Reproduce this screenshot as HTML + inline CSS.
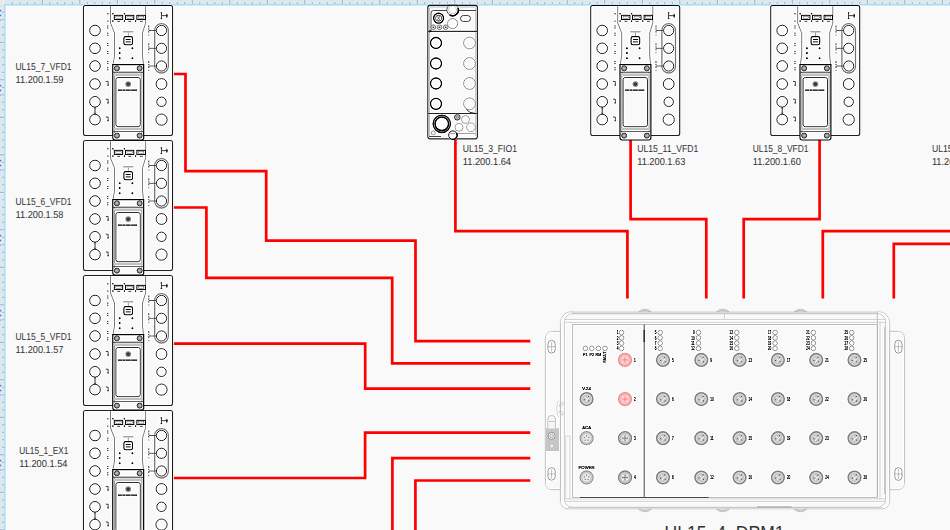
<!DOCTYPE html>
<html><head><meta charset="utf-8"><title>diagram</title>
<style>html,body{margin:0;padding:0;background:#f9f9f9;width:950px;height:530px;overflow:hidden}</style>
</head><body>
<svg width="950" height="530" viewBox="0 0 950 530" style="display:block">
<defs><g id="vfd"><rect x="0" y="-0.5" width="89" height="130" rx="2" fill="#f9f9f9" stroke="#303030" stroke-width="1.1"/><path d="M27,0V17L31,27V50L29.5,58.5M62.1,0V17L59,27V50L60,58.5" fill="none" stroke="#666" stroke-width="0.7"/><circle cx="11.5" cy="24.5" r="5.3" fill="none" stroke="#333" stroke-width="0.9"/><circle cx="11.5" cy="42.3" r="5.3" fill="none" stroke="#333" stroke-width="0.9"/><circle cx="11.5" cy="60" r="5.3" fill="none" stroke="#333" stroke-width="0.9"/><circle cx="11.5" cy="78" r="5.3" fill="none" stroke="#333" stroke-width="0.9"/><circle cx="11.5" cy="95.8" r="5.3" fill="none" stroke="#333" stroke-width="0.9"/><circle cx="11.5" cy="113.6" r="5.3" fill="none" stroke="#333" stroke-width="0.9"/><rect x="71.2" y="17.6" width="13.6" height="49.4" rx="6.8" fill="none" stroke="#8a8a8a" stroke-width="1.3"/><circle cx="78" cy="24.5" r="5.1" fill="#f9f9f9" stroke="#333" stroke-width="0.9"/><circle cx="78" cy="42.3" r="5.1" fill="#f9f9f9" stroke="#333" stroke-width="0.9"/><circle cx="78" cy="60" r="5.1" fill="#f9f9f9" stroke="#333" stroke-width="0.9"/><circle cx="78" cy="78" r="5.4" fill="#f9f9f9" stroke="#333" stroke-width="0.9"/><circle cx="78" cy="95.8" r="4.7" fill="#f9f9f9" stroke="#333" stroke-width="0.9"/><circle cx="78" cy="113.6" r="5.6" fill="#f9f9f9" stroke="#333" stroke-width="0.9"/><path d="M65.5,24.5H72.8" stroke="#333" stroke-width="0.7"/><path d="M65.3,19.5V29.5" stroke="#333" stroke-width="0.8" stroke-dasharray="2,0.8,1.5,0.8,2"/><path d="M65.5,42.3H72.8" stroke="#333" stroke-width="0.7"/><path d="M65.3,37.3V47.3" stroke="#333" stroke-width="0.8" stroke-dasharray="2,0.8,1.5,0.8,2"/><path d="M65.5,60H72.8" stroke="#333" stroke-width="0.7"/><path d="M65.3,55V65" stroke="#333" stroke-width="0.8" stroke-dasharray="2,0.8,1.5,0.8,2"/><path d="M11.5,101V108.3" stroke="#333" stroke-width="0.9"/><path d="M10.6,102.6L11.5,101.4L12.4,102.6M10.6,106.7L11.5,107.9L12.4,106.7" stroke="#333" stroke-width="0.6" fill="none"/><path d="M24.3,7.8h0.01M24.3,15.1h0.01" stroke="#777" stroke-width="1.4" stroke-linecap="square"/><path d="M24.3,19.4v1.2M24.3,21.4v1.2M24.3,26.6v1.2M24.3,28.6v1.2M24.3,36.9v1.2M24.3,38.9v1.2M24.3,44.9v1.2M24.3,46.9v1.2M24.3,54.9v1.2M24.3,56.9v1.2M24.3,61.2v1.2M24.3,63.2v1.2" stroke="#2a2a2a" stroke-width="0.95"/><path d="M22.3,75.4H24.6V79.2M23.6,79.2H25.4" stroke="#333" stroke-width="0.8" fill="none"/><path d="M22.3,93.2H24.6V97M23.6,97H25.4" stroke="#333" stroke-width="0.8" fill="none"/><path d="M22.3,111H24.6V114.8M23.6,114.8H25.4" stroke="#333" stroke-width="0.8" fill="none"/><rect x="30.8" y="9.3" width="8.4" height="4.3" fill="none" stroke="#111" stroke-width="0.95"/><rect x="32.3" y="10.6" width="5.4" height="1.7" fill="none" stroke="#555" stroke-width="0.5"/><path d="M33.8,15.3h2.8" stroke="#333" stroke-width="0.8"/><rect x="41.9" y="9.3" width="8.4" height="4.3" fill="none" stroke="#111" stroke-width="0.95"/><rect x="43.4" y="10.6" width="5.4" height="1.7" fill="none" stroke="#555" stroke-width="0.5"/><path d="M44.9,15.3h2.8" stroke="#333" stroke-width="0.8"/><rect x="53.4" y="9.3" width="8.4" height="4.3" fill="none" stroke="#111" stroke-width="0.95"/><rect x="54.9" y="10.6" width="5.4" height="1.7" fill="none" stroke="#555" stroke-width="0.5"/><path d="M56.4,15.3h2.8" stroke="#333" stroke-width="0.8"/><circle cx="29.4" cy="7.8" r="0.8" fill="#222"/><circle cx="40.9" cy="7.8" r="0.8" fill="#222"/><circle cx="29.4" cy="15.1" r="0.8" fill="#222"/><circle cx="40.9" cy="15.1" r="0.8" fill="#222"/><circle cx="52.1" cy="15.1" r="0.8" fill="#222"/><path d="M77.9,6.6V12.8M77.1,6.8H78.7M77.1,12.6H78.7M77.9,9.7H82.6" stroke="#333" stroke-width="0.85" fill="none"/><path d="M83.4,7.2L84.3,9.7L83.4,12.2L82.5,9.7Z" fill="#1a1a1a"/><path d="M40.2,25.8H49.2" stroke="#b0b0b0" stroke-width="1.6" stroke-linecap="round"/><path d="M44.8,26.6V30.5" stroke="#555" stroke-width="0.5"/><rect x="40.4" y="30.6" width="8.6" height="8.2" rx="1.7" fill="none" stroke="#222" stroke-width="1.1"/><path d="M42.2,33.5H47.2M42.2,35.9H47.2" stroke="#333" stroke-width="1"/><circle cx="36.2" cy="42.3" r="0.95" fill="#222"/><circle cx="48.9" cy="42.3" r="0.95" fill="#222"/><circle cx="36.2" cy="47" r="0.95" fill="#222"/><circle cx="36.2" cy="52.2" r="0.95" fill="#222"/><circle cx="48.9" cy="52.2" r="0.95" fill="#222"/><path d="M29.3,58.6H60.2V131.8Q60.2,134 58,134H31.5Q29.3,134 29.3,131.8Z" fill="#f9f9f9" stroke="#111" stroke-width="1.15"/><path d="M31.1,66V127M58.4,66V127" stroke="#888" stroke-width="0.9"/><path d="M29.5,66.2H60" stroke="#333" stroke-width="0.9"/><rect x="30.3" y="67.3" width="28.9" height="2.9" fill="#c4c4c4"/><rect x="32.4" y="71.5" width="24.4" height="49.2" rx="2.2" fill="#f9f9f9" stroke="#333" stroke-width="0.85"/><rect x="30.3" y="121.8" width="28.9" height="2.4" fill="#c4c4c4"/><path d="M29.5,125.5H60" stroke="#444" stroke-width="0.7"/><circle cx="33.4" cy="62.25" r="2.6" fill="#8a8a8a" stroke="#2a2a2a" stroke-width="0.75"/><circle cx="33.4" cy="62.25" r="1.2" fill="#b0b0b0"/><circle cx="56.2" cy="62.25" r="2.6" fill="#8a8a8a" stroke="#2a2a2a" stroke-width="0.75"/><circle cx="56.2" cy="62.25" r="1.2" fill="#b0b0b0"/><circle cx="33.4" cy="129.6" r="2.6" fill="#8a8a8a" stroke="#2a2a2a" stroke-width="0.75"/><circle cx="33.4" cy="129.6" r="1.2" fill="#b0b0b0"/><circle cx="56.2" cy="129.6" r="2.6" fill="#8a8a8a" stroke="#2a2a2a" stroke-width="0.75"/><circle cx="56.2" cy="129.6" r="1.2" fill="#b0b0b0"/><circle cx="44.7" cy="78.1" r="2.9" fill="#8c8c8c"/><circle cx="44.7" cy="78.1" r="1.7" fill="#3a3a3a"/><path d="M34.4,84.2H53.6" stroke="#1a1a1a" stroke-width="1.2" stroke-dasharray="4,0.4,3,0.4,5,0.4,6"/></g><filter id="sharp" x="0" y="0" width="950" height="530" filterUnits="userSpaceOnUse" color-interpolation-filters="sRGB"><feConvolveMatrix order="3" kernelMatrix="0 -0.12 0 -0.12 1.48 -0.12 0 -0.12 0" edgeMode="duplicate" preserveAlpha="true"/></filter><clipPath id="fioclip"><rect x="420" y="5.4" width="60" height="20"/></clipPath></defs>
<rect width="950" height="530" fill="#f9f9f9"/>
<g filter="url(#sharp)">
<rect x="0" y="0" width="950" height="4.6" fill="#dce8f0"/>
<rect x="0" y="0" width="4.6" height="530" fill="#dce8f0"/>
<rect x="0" y="0" width="4.6" height="4.6" fill="#e9ecee"/>
<path d="M12.3,2V4.6M19.8,2V4.6M27.3,2V4.6M34.8,2V4.6M42.3,0V4.6M49.8,2V4.6M57.3,2V4.6M64.8,2V4.6M72.3,2V4.6M79.8,0V4.6M87.3,2V4.6M94.8,2V4.6M102.3,2V4.6M109.8,2V4.6M117.3,0V4.6M124.8,2V4.6M132.3,2V4.6M139.8,2V4.6M147.3,2V4.6M154.8,0V4.6M162.3,2V4.6M169.8,2V4.6M177.3,2V4.6M184.8,2V4.6M192.3,0V4.6M199.8,2V4.6M207.3,2V4.6M214.8,2V4.6M222.3,2V4.6M229.8,0V4.6M237.3,2V4.6M244.8,2V4.6M252.3,2V4.6M259.8,2V4.6M267.3,0V4.6M274.8,2V4.6M282.3,2V4.6M289.8,2V4.6M297.3,2V4.6M304.8,0V4.6M312.3,2V4.6M319.8,2V4.6M327.3,2V4.6M334.8,2V4.6M342.3,0V4.6M349.8,2V4.6M357.3,2V4.6M364.8,2V4.6M372.3,2V4.6M379.8,0V4.6M387.3,2V4.6M394.8,2V4.6M402.3,2V4.6M409.8,2V4.6M417.3,0V4.6M424.8,2V4.6M432.3,2V4.6M439.8,2V4.6M447.3,2V4.6M454.8,0V4.6M462.3,2V4.6M469.8,2V4.6M477.3,2V4.6M484.8,2V4.6M492.3,0V4.6M499.8,2V4.6M507.3,2V4.6M514.8,2V4.6M522.3,2V4.6M529.8,0V4.6M537.3,2V4.6M544.8,2V4.6M552.3,2V4.6M559.8,2V4.6M567.3,0V4.6M574.8,2V4.6M582.3,2V4.6M589.8,2V4.6M597.3,2V4.6M604.8,0V4.6M612.3,2V4.6M619.8,2V4.6M627.3,2V4.6M634.8,2V4.6M642.3,0V4.6M649.8,2V4.6M657.3,2V4.6M664.8,2V4.6M672.3,2V4.6M679.8,0V4.6M687.3,2V4.6M694.8,2V4.6M702.3,2V4.6M709.8,2V4.6M717.3,0V4.6M724.8,2V4.6M732.3,2V4.6M739.8,2V4.6M747.3,2V4.6M754.8,0V4.6M762.3,2V4.6M769.8,2V4.6M777.3,2V4.6M784.8,2V4.6M792.3,0V4.6M799.8,2V4.6M807.3,2V4.6M814.8,2V4.6M822.3,2V4.6M829.8,0V4.6M837.3,2V4.6M844.8,2V4.6M852.3,2V4.6M859.8,2V4.6M867.3,0V4.6M874.8,2V4.6M882.3,2V4.6M889.8,2V4.6M897.3,2V4.6M904.8,0V4.6M912.3,2V4.6M919.8,2V4.6M927.3,2V4.6M934.8,2V4.6M942.3,0V4.6M949.8,2V4.6" stroke="#9fb6cc" stroke-width="0.9"/>
<path d="M2,12.3H4.6M2,19.8H4.6M2,27.3H4.6M2,34.8H4.6M0,42.3H4.6M2,49.8H4.6M2,57.3H4.6M2,64.8H4.6M2,72.3H4.6M0,79.8H4.6M2,87.3H4.6M2,94.8H4.6M2,102.3H4.6M2,109.8H4.6M0,117.3H4.6M2,124.8H4.6M2,132.3H4.6M2,139.8H4.6M2,147.3H4.6M0,154.8H4.6M2,162.3H4.6M2,169.8H4.6M2,177.3H4.6M2,184.8H4.6M0,192.3H4.6M2,199.8H4.6M2,207.3H4.6M2,214.8H4.6M2,222.3H4.6M0,229.8H4.6M2,237.3H4.6M2,244.8H4.6M2,252.3H4.6M2,259.8H4.6M0,267.3H4.6M2,274.8H4.6M2,282.3H4.6M2,289.8H4.6M2,297.3H4.6M0,304.8H4.6M2,312.3H4.6M2,319.8H4.6M2,327.3H4.6M2,334.8H4.6M0,342.3H4.6M2,349.8H4.6M2,357.3H4.6M2,364.8H4.6M2,372.3H4.6M0,379.8H4.6M2,387.3H4.6M2,394.8H4.6M2,402.3H4.6M2,409.8H4.6M0,417.3H4.6M2,424.8H4.6M2,432.3H4.6M2,439.8H4.6M2,447.3H4.6M0,454.8H4.6M2,462.3H4.6M2,469.8H4.6M2,477.3H4.6M2,484.8H4.6M0,492.3H4.6M2,499.8H4.6M2,507.3H4.6M2,514.8H4.6M2,522.3H4.6M0,529.8H4.6" stroke="#9fb6cc" stroke-width="0.9"/>
<rect x="0" y="9.8" width="1.3" height="1.7" fill="#5a8fd2" opacity="1"/><rect x="0" y="14.6" width="1.3" height="1.7" fill="#5a8fd2" opacity="1"/><rect x="0" y="19.2" width="1.3" height="1.7" fill="#5a8fd2" opacity="0.45"/><rect x="0" y="84.8" width="1.3" height="1.7" fill="#5a8fd2" opacity="1"/><rect x="0" y="89.6" width="1.3" height="1.7" fill="#5a8fd2" opacity="1"/><rect x="0" y="94.2" width="1.3" height="1.7" fill="#5a8fd2" opacity="0.45"/><rect x="0" y="159.8" width="1.3" height="1.7" fill="#5a8fd2" opacity="1"/><rect x="0" y="164.6" width="1.3" height="1.7" fill="#5a8fd2" opacity="1"/><rect x="0" y="169.2" width="1.3" height="1.7" fill="#5a8fd2" opacity="0.45"/><rect x="0" y="234.8" width="1.3" height="1.7" fill="#5a8fd2" opacity="1"/><rect x="0" y="239.6" width="1.3" height="1.7" fill="#5a8fd2" opacity="1"/><rect x="0" y="244.2" width="1.3" height="1.7" fill="#5a8fd2" opacity="0.45"/><rect x="0" y="309.8" width="1.3" height="1.7" fill="#5a8fd2" opacity="1"/><rect x="0" y="314.6" width="1.3" height="1.7" fill="#5a8fd2" opacity="1"/><rect x="0" y="319.2" width="1.3" height="1.7" fill="#5a8fd2" opacity="0.45"/><rect x="0" y="384.8" width="1.3" height="1.7" fill="#5a8fd2" opacity="1"/><rect x="0" y="389.6" width="1.3" height="1.7" fill="#5a8fd2" opacity="1"/><rect x="0" y="394.2" width="1.3" height="1.7" fill="#5a8fd2" opacity="0.45"/><rect x="0" y="459.8" width="1.3" height="1.7" fill="#5a8fd2" opacity="1"/><rect x="0" y="464.6" width="1.3" height="1.7" fill="#5a8fd2" opacity="1"/><rect x="0" y="469.2" width="1.3" height="1.7" fill="#5a8fd2" opacity="0.45"/>
<rect x="4.6" y="4.2" width="946" height="1.5" fill="#a2dbf5"/>
<rect x="4.2" y="4.6" width="1.5" height="526" fill="#a2dbf5"/>
<rect x="5.7" y="5.7" width="945" height="1" fill="#ffffff"/>
<rect x="5.7" y="5.7" width="1" height="525" fill="#ffffff"/>
<path d="M173.9,74L185.5,74L185.5,171.2L266.2,171.2L266.2,240.6L415.5,240.6L415.5,341.1L530.3,341.1M173.9,207.5L206.4,207.5L206.4,277.9L392.2,277.9L392.2,363.3L530.3,363.3M173.9,343.7L365.2,343.7L365.2,388.6L530.3,388.6M173.9,478L365.1,478L365.1,432.6L530.3,432.6M392.4,532L392.4,458.2L530.3,458.2M415.4,532L415.4,480.5L530.3,480.5M455.4,139.5L455.4,231.2L627.4,231.2L627.4,298.4M630.6,139.5L630.6,219.1L706.3,219.1L706.3,298.4M819.6,139.5L819.6,219.1L743.7,219.1L743.7,298.4M952,231.2L822.8,231.2L822.8,298.4M952,243.8L893.8,243.8L893.8,298.4" fill="none" stroke="#ff0000" stroke-width="2.7" stroke-linejoin="miter" stroke-linecap="butt"/>
<use href="#vfd" transform="translate(83.5,6)"/>
<use href="#vfd" transform="translate(83.5,141)"/>
<use href="#vfd" transform="translate(83.5,276)"/>
<use href="#vfd" transform="translate(83.5,411)"/>
<use href="#vfd" transform="translate(590.7,6)"/>
<use href="#vfd" transform="translate(770.7,6)"/>
<rect x="427.8" y="5.4" width="49.6" height="133.4" rx="2.2" fill="#f9f9f9" stroke="#333" stroke-width="1.2"/><path d="M429,6.9H476.3" stroke="#aaa" stroke-width="0.9"/><path d="M429.3,8V136M475.9,8V136" stroke="#aaa" stroke-width="0.9"/><path d="M431,31V13Q431,10.5 433.5,10.5H476" fill="none" stroke="#555" stroke-width="0.9"/><path d="M428,31.3H477" stroke="#222" stroke-width="1"/><path d="M429.5,29.8L432,31.3L429.5,32.8Z" fill="#222"/><g clip-path="url(#fioclip)"><circle cx="452.6" cy="9.9" r="5.8" fill="#f9f9f9" stroke="#666" stroke-width="1"/><circle cx="452.6" cy="9.9" r="4" fill="#fff" stroke="#aaa" stroke-width="0.6"/><path d="M458.05,7.92A5.8,5.8 0 0 1 449.7,14.92" fill="none" stroke="#1a1a1a" stroke-width="1.7"/></g><path d="M448,5.4H457.5" stroke="#333" stroke-width="1.2"/><circle cx="438.6" cy="18.2" r="4.9" fill="#fff" stroke="#111" stroke-width="1.4"/><circle cx="438.6" cy="18.2" r="3.1" fill="#fff" stroke="#333" stroke-width="0.8"/><circle cx="438.6" cy="16.9" r="1" fill="none" stroke="#444" stroke-width="0.6"/><circle cx="438.6" cy="19.5" r="1" fill="none" stroke="#444" stroke-width="0.6"/><circle cx="452.6" cy="23.6" r="5" fill="none" stroke="#888" stroke-width="0.8"/><rect x="460.6" y="15.6" width="9.8" height="5.8" rx="2.6" fill="none" stroke="#444" stroke-width="0.9"/><circle cx="433.3" cy="27.2" r="2.4" fill="#d0d0d0" stroke="#6a6a6a" stroke-width="0.7"/><circle cx="433.3" cy="27.2" r="0.8" fill="#555"/><circle cx="439.5" cy="27.2" r="2.4" fill="#d0d0d0" stroke="#6a6a6a" stroke-width="0.7"/><circle cx="439.5" cy="27.2" r="0.8" fill="#555"/><circle cx="445.7" cy="27.2" r="2.4" fill="#d0d0d0" stroke="#6a6a6a" stroke-width="0.7"/><circle cx="445.7" cy="27.2" r="0.8" fill="#555"/><circle cx="436" cy="43" r="5.5" fill="none" stroke="#111" stroke-width="1.3"/><circle cx="469.5" cy="43" r="5.9" fill="none" stroke="#999" stroke-width="0.9"/><circle cx="436" cy="63.5" r="5.5" fill="none" stroke="#111" stroke-width="1.3"/><circle cx="469.5" cy="63.5" r="5.9" fill="none" stroke="#999" stroke-width="0.9"/><circle cx="436" cy="83.5" r="5.5" fill="none" stroke="#111" stroke-width="1.3"/><circle cx="469.5" cy="83.5" r="5.9" fill="none" stroke="#999" stroke-width="0.9"/><circle cx="436" cy="103.8" r="5.5" fill="none" stroke="#111" stroke-width="1.3"/><circle cx="469.5" cy="103.8" r="5.9" fill="none" stroke="#999" stroke-width="0.9"/><path d="M428,113.5H477" stroke="#333" stroke-width="0.9"/><circle cx="441.8" cy="123.8" r="8.6" fill="#f9f9f9" stroke="#262626" stroke-width="1.5"/><circle cx="441.8" cy="123.8" r="6.8" fill="#fff" stroke="#111" stroke-width="1.6"/><circle cx="457.3" cy="117.3" r="2.8" fill="#bdbdbd" stroke="#3a3a3a" stroke-width="0.9"/><circle cx="457.3" cy="117.3" r="1.2" fill="none" stroke="#666" stroke-width="0.5"/><path d="M466.5,109.4Q469,113.4 475.5,113.4" fill="none" stroke="#333" stroke-width="0.9"/><circle cx="465.5" cy="119.5" r="4" fill="none" stroke="#999" stroke-width="0.8"/><circle cx="459" cy="127.3" r="4" fill="none" stroke="#999" stroke-width="0.8"/><circle cx="471" cy="127.3" r="4.4" fill="none" stroke="#999" stroke-width="0.8"/><path d="M455,133.5H475" stroke="#999" stroke-width="0.8"/><circle cx="433.2" cy="133" r="2" fill="none" stroke="#888" stroke-width="0.7"/><path d="M429,136.5H441" stroke="#666" stroke-width="1"/><circle cx="452.9" cy="135.1" r="4.2" fill="#fff" stroke="#333" stroke-width="1"/><path d="M456.6,133.1A4.2,4.2 0 0 1 451.5,139.1" fill="none" stroke="#111" stroke-width="1.3"/><path d="M450.2,133.7H455.6" stroke="#666" stroke-width="0.6"/>
<path d="M560.4,331.4H552.3Q545.3,331.4 545.3,338.4V482.7Q545.3,489.7 552.3,489.7H560.4" fill="#f9f9f9" stroke="#b4b4b4" stroke-width="0.8"/><path d="M889.7,331.4H897.6Q904.6,331.4 904.6,338.4V482.7Q904.6,489.7 897.6,489.7H889.7" fill="#f9f9f9" stroke="#b4b4b4" stroke-width="0.8"/><rect x="548" y="340.3" width="7.2" height="12.8" rx="3.6" fill="none" stroke="#888" stroke-width="0.7"/><path d="M548,346.7H555.2M551.6,341.8V351.6" stroke="#999" stroke-width="0.5"/><rect x="548" y="467.6" width="7.2" height="12.6" rx="3.6" fill="none" stroke="#888" stroke-width="0.7"/><path d="M548,473.9H555.2M551.6,469.1V478.7" stroke="#999" stroke-width="0.5"/><rect x="894.8" y="340.3" width="7.2" height="12.8" rx="3.6" fill="none" stroke="#888" stroke-width="0.7"/><path d="M894.8,346.7H902M898.4,341.8V351.6" stroke="#999" stroke-width="0.5"/><rect x="894.8" y="467.6" width="7.2" height="12.8" rx="3.6" fill="none" stroke="#888" stroke-width="0.7"/><path d="M894.8,474H902M898.4,469.1V478.9" stroke="#999" stroke-width="0.5"/><rect x="545.6" y="428.3" width="13.4" height="22.7" fill="#c6c6c6"/><path d="M547.8,428.3V419.2Q547.8,415.4 551.6,415.4Q555.4,415.4 555.4,419.2V428.3M548.6,421.5H554.6" fill="#f4f4f4" stroke="#aaa" stroke-width="0.6"/><circle cx="551.6" cy="435.8" r="3.6" fill="#e4e4e4" stroke="#888" stroke-width="0.7"/><circle cx="551.6" cy="435.8" r="1.8" fill="none" stroke="#999" stroke-width="0.6"/><path d="M551.8,444.4L553.5,446.1L551.8,447.8L550.1,446.1Z" fill="#f2f2f2"/><path d="M571.4,311.5H878.7A11,11 0 0 1 889.7,322.5V501.5A7.5,7.5 0 0 1 882.2,509H567.9A7.5,7.5 0 0 1 560.4,501.5V322.5A11,11 0 0 1 571.4,311.5Z" fill="#f9f9f9" stroke="#b4b4b4" stroke-width="0.8"/><path d="M571.4,312.7H878.5M568,508.3H882" stroke="#d9d9d9" stroke-width="2.4"/><rect x="564.4" y="313.8" width="321.2" height="193.4" rx="8" fill="none" stroke="#c2c2c2" stroke-width="0.7"/><path d="M564.4,319.4H885.6M564.4,322.3H885.6M564.4,498.9H885.6M564.4,501.4H885.6" stroke="#c0c0c0" stroke-width="0.6"/><path d="M724.4,314V318.8" stroke="#bbb" stroke-width="0.6"/><path d="M757,506.9H791.5" stroke="#9a9a9a" stroke-width="0.8"/><path d="M569.9,436V499M565.7,436V499M565.7,436H569.9M880,322V499" stroke="#c4c4c4" stroke-width="0.6"/><path d="M884.8,327V494" stroke="#aaa" stroke-width="0.8"/><ellipse cx="561.3" cy="404.6" rx="2.6" ry="1.2" transform="rotate(-45 561.3 404.6)" fill="none" stroke="#bbb" stroke-width="0.6"/><ellipse cx="561.3" cy="413" rx="2.6" ry="1.2" transform="rotate(45 561.3 413)" fill="none" stroke="#bbb" stroke-width="0.6"/><path d="M558.5,400.5Q555,408.8 558.5,417" fill="none" stroke="#c4c4c4" stroke-width="0.6"/><rect x="572.7" y="324.5" width="304.6" height="172.9" fill="#f9f9f9" stroke="#b0b0b0" stroke-width="0.7"/><path d="M877.3,312.5V497.4" stroke="#b8b8b8" stroke-width="0.8"/><path d="M580,497.5H708.6" stroke="#666" stroke-width="1"/><path d="M644.2,324.6V497.4" stroke="#666" stroke-width="1.1"/><path d="M644.2,330V342" stroke="#444" stroke-width="1.4"/><path d="M638.8,312.2A6.2,2.9 0 0 1 651.2,312.2M640.4,312.2A4.6,1.9 0 0 1 649.6,312.2" fill="none" stroke="#a8a8a8" stroke-width="0.7"/><path d="M638.8,508.8A6.2,2.9 0 0 0 651.2,508.8M640.4,508.8A4.6,1.9 0 0 0 649.6,508.8" fill="none" stroke="#a8a8a8" stroke-width="0.7"/><path d="M716.5,312.2A6.2,2.9 0 0 1 728.9,312.2M718.1,312.2A4.6,1.9 0 0 1 727.3,312.2" fill="none" stroke="#a8a8a8" stroke-width="0.7"/><path d="M716.5,508.8A6.2,2.9 0 0 0 728.9,508.8M718.1,508.8A4.6,1.9 0 0 0 727.3,508.8" fill="none" stroke="#a8a8a8" stroke-width="0.7"/><path d="M794.3,312.2A6.2,2.9 0 0 1 806.7,312.2M795.9,312.2A4.6,1.9 0 0 1 805.1,312.2" fill="none" stroke="#a8a8a8" stroke-width="0.7"/><path d="M794.3,508.8A6.2,2.9 0 0 0 806.7,508.8M795.9,508.8A4.6,1.9 0 0 0 805.1,508.8" fill="none" stroke="#a8a8a8" stroke-width="0.7"/><circle cx="585.3" cy="348.4" r="2.3" fill="none" stroke="#666" stroke-width="0.55"/><text x="585.3" y="356.3" font-size="3.6" text-anchor="middle" style="font-family:'Liberation Sans', sans-serif;fill:#111;stroke:#111;stroke-width:0.22" >P1</text><circle cx="591.8" cy="348.4" r="2.3" fill="none" stroke="#666" stroke-width="0.55"/><text x="591.8" y="356.3" font-size="3.6" text-anchor="middle" style="font-family:'Liberation Sans', sans-serif;fill:#111;stroke:#111;stroke-width:0.22" >P2</text><circle cx="598.4" cy="348.4" r="2.3" fill="none" stroke="#666" stroke-width="0.55"/><text x="598.4" y="356.3" font-size="3.6" text-anchor="middle" style="font-family:'Liberation Sans', sans-serif;fill:#111;stroke:#111;stroke-width:0.22" >RM</text><circle cx="605" cy="348.4" r="2.3" fill="none" stroke="#666" stroke-width="0.55"/><text transform="translate(606.4,362.5) rotate(-90)" font-size="3.6" style="font-family:'Liberation Sans', sans-serif;fill:#111;stroke:#111;stroke-width:0.22">FAULT</text><circle cx="621.6" cy="332.5" r="2.3" fill="none" stroke="#666" stroke-width="0.55"/><text x="616.85" y="334.2" font-size="4.8" textLength="1.75" lengthAdjust="spacingAndGlyphs" style="font-family:'Liberation Sans', sans-serif;fill:#111;stroke:#111;stroke-width:0.22" >1</text><circle cx="621.6" cy="337.8" r="2.3" fill="none" stroke="#666" stroke-width="0.55"/><text x="616.85" y="339.5" font-size="4.8" textLength="1.75" lengthAdjust="spacingAndGlyphs" style="font-family:'Liberation Sans', sans-serif;fill:#111;stroke:#111;stroke-width:0.22" >2</text><circle cx="621.6" cy="343.1" r="2.3" fill="none" stroke="#666" stroke-width="0.55"/><text x="616.85" y="344.8" font-size="4.8" textLength="1.75" lengthAdjust="spacingAndGlyphs" style="font-family:'Liberation Sans', sans-serif;fill:#111;stroke:#111;stroke-width:0.22" >3</text><circle cx="621.6" cy="348.4" r="2.3" fill="none" stroke="#666" stroke-width="0.55"/><text x="616.85" y="350.1" font-size="4.8" textLength="1.75" lengthAdjust="spacingAndGlyphs" style="font-family:'Liberation Sans', sans-serif;fill:#111;stroke:#111;stroke-width:0.22" >4</text><circle cx="625" cy="359.9" r="6.5" fill="#f8b4b4" stroke="#f39a9a" stroke-width="1.3"/><circle cx="625" cy="359.9" r="4.6" fill="#fbc8c8" stroke="#f5a5a5" stroke-width="0.5"/><path d="M622.3,359.9h5.4M625,357.2v5.4" stroke="#ef7f7f" stroke-width="0.7"/><circle cx="622.8" cy="357.7" r="0.7" fill="#fde3e3"/><circle cx="627.2" cy="357.7" r="0.7" fill="#fde3e3"/><circle cx="622.8" cy="362.1" r="0.7" fill="#fde3e3"/><circle cx="627.2" cy="362.1" r="0.7" fill="#fde3e3"/><text x="633.9" y="361.6" font-size="4.8" textLength="1.75" lengthAdjust="spacingAndGlyphs" style="font-family:'Liberation Sans', sans-serif;fill:#111;stroke:#111;stroke-width:0.22" >1</text><circle cx="625" cy="399.1" r="6.5" fill="#f8b4b4" stroke="#f39a9a" stroke-width="1.3"/><circle cx="625" cy="399.1" r="4.6" fill="#fbc8c8" stroke="#f5a5a5" stroke-width="0.5"/><path d="M622.3,399.1h5.4M625,396.4v5.4" stroke="#ef7f7f" stroke-width="0.7"/><circle cx="622.8" cy="396.9" r="0.7" fill="#fde3e3"/><circle cx="627.2" cy="396.9" r="0.7" fill="#fde3e3"/><circle cx="622.8" cy="401.3" r="0.7" fill="#fde3e3"/><circle cx="627.2" cy="401.3" r="0.7" fill="#fde3e3"/><text x="633.9" y="400.8" font-size="4.8" textLength="1.75" lengthAdjust="spacingAndGlyphs" style="font-family:'Liberation Sans', sans-serif;fill:#111;stroke:#111;stroke-width:0.22" >2</text><circle cx="625" cy="438.2" r="6.5" fill="#c6c6c6" stroke="#8e8e8e" stroke-width="1.3"/><circle cx="625" cy="438.2" r="4.7" fill="#d4d4d4" stroke="#a8a8a8" stroke-width="0.5"/><path d="M622,438.2L628,438.2M625,435.2L625,441.2" stroke="#777" stroke-width="0.7"/><circle cx="622.9" cy="436.1" r="0.8" fill="#eee"/><circle cx="627.1" cy="436.1" r="0.8" fill="#eee"/><circle cx="622.9" cy="440.3" r="0.8" fill="#eee"/><circle cx="627.1" cy="440.3" r="0.8" fill="#eee"/><text x="633.9" y="439.9" font-size="4.8" textLength="1.75" lengthAdjust="spacingAndGlyphs" style="font-family:'Liberation Sans', sans-serif;fill:#111;stroke:#111;stroke-width:0.22" >3</text><circle cx="625" cy="477.5" r="6.5" fill="#c6c6c6" stroke="#8e8e8e" stroke-width="1.3"/><circle cx="625" cy="477.5" r="4.7" fill="#d4d4d4" stroke="#a8a8a8" stroke-width="0.5"/><path d="M622,477.5L628,477.5M625,474.5L625,480.5" stroke="#777" stroke-width="0.7"/><circle cx="622.9" cy="475.4" r="0.8" fill="#eee"/><circle cx="627.1" cy="475.4" r="0.8" fill="#eee"/><circle cx="622.9" cy="479.6" r="0.8" fill="#eee"/><circle cx="627.1" cy="479.6" r="0.8" fill="#eee"/><text x="633.9" y="479.2" font-size="4.8" textLength="1.75" lengthAdjust="spacingAndGlyphs" style="font-family:'Liberation Sans', sans-serif;fill:#111;stroke:#111;stroke-width:0.22" >4</text><circle cx="586.6" cy="399.1" r="6.3" fill="#c2c2c2" stroke="#8f8f8f" stroke-width="1.6"/><circle cx="586.6" cy="399.1" r="4.9" fill="#c6c6c6" stroke="#d6d6d6" stroke-width="0.8"/><path d="M584.8,396.9L587.1,399.4M587.1,399.4L585.8,401.7M587.1,399.4L589,398.1" stroke="#ececec" stroke-width="1" stroke-linecap="round"/><circle cx="588.4" cy="396.5" r="0.55" fill="#555"/><circle cx="588.8" cy="400.9" r="0.55" fill="#555"/><circle cx="584.3" cy="399.7" r="0.55" fill="#555"/><text x="586.6" y="390.2" font-size="4.3" text-anchor="middle" style="font-family:'Liberation Sans', sans-serif;fill:#111;stroke:#111;stroke-width:0.22" >V.24</text><circle cx="586.6" cy="438.2" r="6.5" fill="#cdcdcd" stroke="#a4a4a4" stroke-width="1.3"/><circle cx="586.6" cy="438.2" r="4.7" fill="#e4e4e4" stroke="#b4b4b4" stroke-width="0.5"/><circle cx="586.6" cy="435.8" r="0.6" fill="#777"/><circle cx="588.9" cy="437.5" r="0.6" fill="#777"/><circle cx="588" cy="440.2" r="0.6" fill="#777"/><circle cx="585.2" cy="440.2" r="0.6" fill="#777"/><circle cx="584.3" cy="437.5" r="0.6" fill="#777"/><text x="586.6" y="429.4" font-size="4.3" text-anchor="middle" style="font-family:'Liberation Sans', sans-serif;fill:#111;stroke:#111;stroke-width:0.22" >ACA</text><circle cx="586.6" cy="477.5" r="6.5" fill="#cdcdcd" stroke="#a4a4a4" stroke-width="1.3"/><circle cx="586.6" cy="477.5" r="4.7" fill="#e4e4e4" stroke="#b4b4b4" stroke-width="0.5"/><circle cx="586.6" cy="475.1" r="0.6" fill="#777"/><circle cx="588.9" cy="476.8" r="0.6" fill="#777"/><circle cx="588" cy="479.5" r="0.6" fill="#777"/><circle cx="585.2" cy="479.5" r="0.6" fill="#777"/><circle cx="584.3" cy="476.8" r="0.6" fill="#777"/><text x="586.6" y="468.6" font-size="4.3" text-anchor="middle" style="font-family:'Liberation Sans', sans-serif;fill:#111;stroke:#111;stroke-width:0.22" >POWER</text><circle cx="660.2" cy="332.5" r="2.3" fill="none" stroke="#666" stroke-width="0.55"/><text x="654.7" y="334.2" font-size="4.8" textLength="1.7" lengthAdjust="spacingAndGlyphs" style="font-family:'Liberation Sans', sans-serif;fill:#111;stroke:#111;stroke-width:0.22" >5</text><circle cx="660.2" cy="337.8" r="2.3" fill="none" stroke="#666" stroke-width="0.55"/><text x="654.7" y="339.5" font-size="4.8" textLength="1.7" lengthAdjust="spacingAndGlyphs" style="font-family:'Liberation Sans', sans-serif;fill:#111;stroke:#111;stroke-width:0.22" >6</text><circle cx="660.2" cy="343.1" r="2.3" fill="none" stroke="#666" stroke-width="0.55"/><text x="654.7" y="344.8" font-size="4.8" textLength="1.7" lengthAdjust="spacingAndGlyphs" style="font-family:'Liberation Sans', sans-serif;fill:#111;stroke:#111;stroke-width:0.22" >7</text><circle cx="660.2" cy="348.4" r="2.3" fill="none" stroke="#666" stroke-width="0.55"/><text x="654.7" y="350.1" font-size="4.8" textLength="1.7" lengthAdjust="spacingAndGlyphs" style="font-family:'Liberation Sans', sans-serif;fill:#111;stroke:#111;stroke-width:0.22" >8</text><circle cx="663" cy="359.9" r="6.3" fill="#c2c2c2" stroke="#8f8f8f" stroke-width="1.6"/><circle cx="663" cy="359.9" r="4.9" fill="#c6c6c6" stroke="#d6d6d6" stroke-width="0.8"/><path d="M661.2,357.7L663.5,360.2M663.5,360.2L662.2,362.5M663.5,360.2L665.4,358.9" stroke="#ececec" stroke-width="1" stroke-linecap="round"/><circle cx="664.8" cy="357.3" r="0.55" fill="#555"/><circle cx="665.2" cy="361.7" r="0.55" fill="#555"/><circle cx="660.7" cy="360.5" r="0.55" fill="#555"/><text x="672" y="361.6" font-size="4.8" textLength="1.7" lengthAdjust="spacingAndGlyphs" style="font-family:'Liberation Sans', sans-serif;fill:#111;stroke:#111;stroke-width:0.22" >5</text><circle cx="663" cy="399.1" r="6.3" fill="#c2c2c2" stroke="#8f8f8f" stroke-width="1.6"/><circle cx="663" cy="399.1" r="4.9" fill="#c6c6c6" stroke="#d6d6d6" stroke-width="0.8"/><path d="M661.2,396.9L663.5,399.4M663.5,399.4L662.2,401.7M663.5,399.4L665.4,398.1" stroke="#ececec" stroke-width="1" stroke-linecap="round"/><circle cx="664.8" cy="396.5" r="0.55" fill="#555"/><circle cx="665.2" cy="400.9" r="0.55" fill="#555"/><circle cx="660.7" cy="399.7" r="0.55" fill="#555"/><text x="672" y="400.8" font-size="4.8" textLength="1.7" lengthAdjust="spacingAndGlyphs" style="font-family:'Liberation Sans', sans-serif;fill:#111;stroke:#111;stroke-width:0.22" >6</text><circle cx="663" cy="438.2" r="6.3" fill="#c2c2c2" stroke="#8f8f8f" stroke-width="1.6"/><circle cx="663" cy="438.2" r="4.9" fill="#c6c6c6" stroke="#d6d6d6" stroke-width="0.8"/><path d="M661.2,436L663.5,438.5M663.5,438.5L662.2,440.8M663.5,438.5L665.4,437.2" stroke="#ececec" stroke-width="1" stroke-linecap="round"/><circle cx="664.8" cy="435.6" r="0.55" fill="#555"/><circle cx="665.2" cy="440" r="0.55" fill="#555"/><circle cx="660.7" cy="438.8" r="0.55" fill="#555"/><text x="672" y="439.9" font-size="4.8" textLength="1.7" lengthAdjust="spacingAndGlyphs" style="font-family:'Liberation Sans', sans-serif;fill:#111;stroke:#111;stroke-width:0.22" >7</text><circle cx="663" cy="477.5" r="6.3" fill="#c2c2c2" stroke="#8f8f8f" stroke-width="1.6"/><circle cx="663" cy="477.5" r="4.9" fill="#c6c6c6" stroke="#d6d6d6" stroke-width="0.8"/><path d="M661.2,475.3L663.5,477.8M663.5,477.8L662.2,480.1M663.5,477.8L665.4,476.5" stroke="#ececec" stroke-width="1" stroke-linecap="round"/><circle cx="664.8" cy="474.9" r="0.55" fill="#555"/><circle cx="665.2" cy="479.3" r="0.55" fill="#555"/><circle cx="660.7" cy="478.1" r="0.55" fill="#555"/><text x="672" y="479.2" font-size="4.8" textLength="1.7" lengthAdjust="spacingAndGlyphs" style="font-family:'Liberation Sans', sans-serif;fill:#111;stroke:#111;stroke-width:0.22" >8</text><circle cx="698.5" cy="332.5" r="2.3" fill="none" stroke="#666" stroke-width="0.55"/><text x="693" y="334.2" font-size="4.8" textLength="1.7" lengthAdjust="spacingAndGlyphs" style="font-family:'Liberation Sans', sans-serif;fill:#111;stroke:#111;stroke-width:0.22" >9</text><circle cx="698.5" cy="337.8" r="2.3" fill="none" stroke="#666" stroke-width="0.55"/><text x="691.3" y="339.5" font-size="4.8" textLength="3.4" lengthAdjust="spacingAndGlyphs" style="font-family:'Liberation Sans', sans-serif;fill:#111;stroke:#111;stroke-width:0.22" >10</text><circle cx="698.5" cy="343.1" r="2.3" fill="none" stroke="#666" stroke-width="0.55"/><text x="691.3" y="344.8" font-size="4.8" textLength="3.4" lengthAdjust="spacingAndGlyphs" style="font-family:'Liberation Sans', sans-serif;fill:#111;stroke:#111;stroke-width:0.22" >11</text><circle cx="698.5" cy="348.4" r="2.3" fill="none" stroke="#666" stroke-width="0.55"/><text x="691.3" y="350.1" font-size="4.8" textLength="3.4" lengthAdjust="spacingAndGlyphs" style="font-family:'Liberation Sans', sans-serif;fill:#111;stroke:#111;stroke-width:0.22" >12</text><circle cx="701.3" cy="359.9" r="6.3" fill="#c2c2c2" stroke="#8f8f8f" stroke-width="1.6"/><circle cx="701.3" cy="359.9" r="4.9" fill="#c6c6c6" stroke="#d6d6d6" stroke-width="0.8"/><path d="M699.5,357.7L701.8,360.2M701.8,360.2L700.5,362.5M701.8,360.2L703.7,358.9" stroke="#ececec" stroke-width="1" stroke-linecap="round"/><circle cx="703.1" cy="357.3" r="0.55" fill="#555"/><circle cx="703.5" cy="361.7" r="0.55" fill="#555"/><circle cx="699" cy="360.5" r="0.55" fill="#555"/><text x="710.3" y="361.6" font-size="4.8" textLength="1.7" lengthAdjust="spacingAndGlyphs" style="font-family:'Liberation Sans', sans-serif;fill:#111;stroke:#111;stroke-width:0.22" >9</text><circle cx="701.3" cy="399.1" r="6.3" fill="#c2c2c2" stroke="#8f8f8f" stroke-width="1.6"/><circle cx="701.3" cy="399.1" r="4.9" fill="#c6c6c6" stroke="#d6d6d6" stroke-width="0.8"/><path d="M699.5,396.9L701.8,399.4M701.8,399.4L700.5,401.7M701.8,399.4L703.7,398.1" stroke="#ececec" stroke-width="1" stroke-linecap="round"/><circle cx="703.1" cy="396.5" r="0.55" fill="#555"/><circle cx="703.5" cy="400.9" r="0.55" fill="#555"/><circle cx="699" cy="399.7" r="0.55" fill="#555"/><text x="710.3" y="400.8" font-size="4.8" textLength="3.4" lengthAdjust="spacingAndGlyphs" style="font-family:'Liberation Sans', sans-serif;fill:#111;stroke:#111;stroke-width:0.22" >10</text><circle cx="701.3" cy="438.2" r="6.3" fill="#c2c2c2" stroke="#8f8f8f" stroke-width="1.6"/><circle cx="701.3" cy="438.2" r="4.9" fill="#c6c6c6" stroke="#d6d6d6" stroke-width="0.8"/><path d="M699.5,436L701.8,438.5M701.8,438.5L700.5,440.8M701.8,438.5L703.7,437.2" stroke="#ececec" stroke-width="1" stroke-linecap="round"/><circle cx="703.1" cy="435.6" r="0.55" fill="#555"/><circle cx="703.5" cy="440" r="0.55" fill="#555"/><circle cx="699" cy="438.8" r="0.55" fill="#555"/><text x="710.3" y="439.9" font-size="4.8" textLength="3.4" lengthAdjust="spacingAndGlyphs" style="font-family:'Liberation Sans', sans-serif;fill:#111;stroke:#111;stroke-width:0.22" >11</text><circle cx="701.3" cy="477.5" r="6.3" fill="#c2c2c2" stroke="#8f8f8f" stroke-width="1.6"/><circle cx="701.3" cy="477.5" r="4.9" fill="#c6c6c6" stroke="#d6d6d6" stroke-width="0.8"/><path d="M699.5,475.3L701.8,477.8M701.8,477.8L700.5,480.1M701.8,477.8L703.7,476.5" stroke="#ececec" stroke-width="1" stroke-linecap="round"/><circle cx="703.1" cy="474.9" r="0.55" fill="#555"/><circle cx="703.5" cy="479.3" r="0.55" fill="#555"/><circle cx="699" cy="478.1" r="0.55" fill="#555"/><text x="710.3" y="479.2" font-size="4.8" textLength="3.4" lengthAdjust="spacingAndGlyphs" style="font-family:'Liberation Sans', sans-serif;fill:#111;stroke:#111;stroke-width:0.22" >12</text><circle cx="736.8" cy="332.5" r="2.3" fill="none" stroke="#666" stroke-width="0.55"/><text x="729.6" y="334.2" font-size="4.8" textLength="3.4" lengthAdjust="spacingAndGlyphs" style="font-family:'Liberation Sans', sans-serif;fill:#111;stroke:#111;stroke-width:0.22" >13</text><circle cx="736.8" cy="337.8" r="2.3" fill="none" stroke="#666" stroke-width="0.55"/><text x="729.6" y="339.5" font-size="4.8" textLength="3.4" lengthAdjust="spacingAndGlyphs" style="font-family:'Liberation Sans', sans-serif;fill:#111;stroke:#111;stroke-width:0.22" >14</text><circle cx="736.8" cy="343.1" r="2.3" fill="none" stroke="#666" stroke-width="0.55"/><text x="729.6" y="344.8" font-size="4.8" textLength="3.4" lengthAdjust="spacingAndGlyphs" style="font-family:'Liberation Sans', sans-serif;fill:#111;stroke:#111;stroke-width:0.22" >15</text><circle cx="736.8" cy="348.4" r="2.3" fill="none" stroke="#666" stroke-width="0.55"/><text x="729.6" y="350.1" font-size="4.8" textLength="3.4" lengthAdjust="spacingAndGlyphs" style="font-family:'Liberation Sans', sans-serif;fill:#111;stroke:#111;stroke-width:0.22" >16</text><circle cx="739.6" cy="359.9" r="6.3" fill="#c2c2c2" stroke="#8f8f8f" stroke-width="1.6"/><circle cx="739.6" cy="359.9" r="4.9" fill="#c6c6c6" stroke="#d6d6d6" stroke-width="0.8"/><path d="M737.8,357.7L740.1,360.2M740.1,360.2L738.8,362.5M740.1,360.2L742,358.9" stroke="#ececec" stroke-width="1" stroke-linecap="round"/><circle cx="741.4" cy="357.3" r="0.55" fill="#555"/><circle cx="741.8" cy="361.7" r="0.55" fill="#555"/><circle cx="737.3" cy="360.5" r="0.55" fill="#555"/><text x="748.6" y="361.6" font-size="4.8" textLength="3.4" lengthAdjust="spacingAndGlyphs" style="font-family:'Liberation Sans', sans-serif;fill:#111;stroke:#111;stroke-width:0.22" >13</text><circle cx="739.6" cy="399.1" r="6.3" fill="#c2c2c2" stroke="#8f8f8f" stroke-width="1.6"/><circle cx="739.6" cy="399.1" r="4.9" fill="#c6c6c6" stroke="#d6d6d6" stroke-width="0.8"/><path d="M737.8,396.9L740.1,399.4M740.1,399.4L738.8,401.7M740.1,399.4L742,398.1" stroke="#ececec" stroke-width="1" stroke-linecap="round"/><circle cx="741.4" cy="396.5" r="0.55" fill="#555"/><circle cx="741.8" cy="400.9" r="0.55" fill="#555"/><circle cx="737.3" cy="399.7" r="0.55" fill="#555"/><text x="748.6" y="400.8" font-size="4.8" textLength="3.4" lengthAdjust="spacingAndGlyphs" style="font-family:'Liberation Sans', sans-serif;fill:#111;stroke:#111;stroke-width:0.22" >14</text><circle cx="739.6" cy="438.2" r="6.3" fill="#c2c2c2" stroke="#8f8f8f" stroke-width="1.6"/><circle cx="739.6" cy="438.2" r="4.9" fill="#c6c6c6" stroke="#d6d6d6" stroke-width="0.8"/><path d="M737.8,436L740.1,438.5M740.1,438.5L738.8,440.8M740.1,438.5L742,437.2" stroke="#ececec" stroke-width="1" stroke-linecap="round"/><circle cx="741.4" cy="435.6" r="0.55" fill="#555"/><circle cx="741.8" cy="440" r="0.55" fill="#555"/><circle cx="737.3" cy="438.8" r="0.55" fill="#555"/><text x="748.6" y="439.9" font-size="4.8" textLength="3.4" lengthAdjust="spacingAndGlyphs" style="font-family:'Liberation Sans', sans-serif;fill:#111;stroke:#111;stroke-width:0.22" >15</text><circle cx="739.6" cy="477.5" r="6.3" fill="#c2c2c2" stroke="#8f8f8f" stroke-width="1.6"/><circle cx="739.6" cy="477.5" r="4.9" fill="#c6c6c6" stroke="#d6d6d6" stroke-width="0.8"/><path d="M737.8,475.3L740.1,477.8M740.1,477.8L738.8,480.1M740.1,477.8L742,476.5" stroke="#ececec" stroke-width="1" stroke-linecap="round"/><circle cx="741.4" cy="474.9" r="0.55" fill="#555"/><circle cx="741.8" cy="479.3" r="0.55" fill="#555"/><circle cx="737.3" cy="478.1" r="0.55" fill="#555"/><text x="748.6" y="479.2" font-size="4.8" textLength="3.4" lengthAdjust="spacingAndGlyphs" style="font-family:'Liberation Sans', sans-serif;fill:#111;stroke:#111;stroke-width:0.22" >16</text><circle cx="775.1" cy="332.5" r="2.3" fill="none" stroke="#666" stroke-width="0.55"/><text x="767.9" y="334.2" font-size="4.8" textLength="3.4" lengthAdjust="spacingAndGlyphs" style="font-family:'Liberation Sans', sans-serif;fill:#111;stroke:#111;stroke-width:0.22" >17</text><circle cx="775.1" cy="337.8" r="2.3" fill="none" stroke="#666" stroke-width="0.55"/><text x="767.9" y="339.5" font-size="4.8" textLength="3.4" lengthAdjust="spacingAndGlyphs" style="font-family:'Liberation Sans', sans-serif;fill:#111;stroke:#111;stroke-width:0.22" >18</text><circle cx="775.1" cy="343.1" r="2.3" fill="none" stroke="#666" stroke-width="0.55"/><text x="767.9" y="344.8" font-size="4.8" textLength="3.4" lengthAdjust="spacingAndGlyphs" style="font-family:'Liberation Sans', sans-serif;fill:#111;stroke:#111;stroke-width:0.22" >19</text><circle cx="775.1" cy="348.4" r="2.3" fill="none" stroke="#666" stroke-width="0.55"/><text x="767.9" y="350.1" font-size="4.8" textLength="3.4" lengthAdjust="spacingAndGlyphs" style="font-family:'Liberation Sans', sans-serif;fill:#111;stroke:#111;stroke-width:0.22" >20</text><circle cx="777.9" cy="359.9" r="6.3" fill="#c2c2c2" stroke="#8f8f8f" stroke-width="1.6"/><circle cx="777.9" cy="359.9" r="4.9" fill="#c6c6c6" stroke="#d6d6d6" stroke-width="0.8"/><path d="M776.1,357.7L778.4,360.2M778.4,360.2L777.1,362.5M778.4,360.2L780.3,358.9" stroke="#ececec" stroke-width="1" stroke-linecap="round"/><circle cx="779.7" cy="357.3" r="0.55" fill="#555"/><circle cx="780.1" cy="361.7" r="0.55" fill="#555"/><circle cx="775.6" cy="360.5" r="0.55" fill="#555"/><text x="786.9" y="361.6" font-size="4.8" textLength="3.4" lengthAdjust="spacingAndGlyphs" style="font-family:'Liberation Sans', sans-serif;fill:#111;stroke:#111;stroke-width:0.22" >17</text><circle cx="777.9" cy="399.1" r="6.3" fill="#c2c2c2" stroke="#8f8f8f" stroke-width="1.6"/><circle cx="777.9" cy="399.1" r="4.9" fill="#c6c6c6" stroke="#d6d6d6" stroke-width="0.8"/><path d="M776.1,396.9L778.4,399.4M778.4,399.4L777.1,401.7M778.4,399.4L780.3,398.1" stroke="#ececec" stroke-width="1" stroke-linecap="round"/><circle cx="779.7" cy="396.5" r="0.55" fill="#555"/><circle cx="780.1" cy="400.9" r="0.55" fill="#555"/><circle cx="775.6" cy="399.7" r="0.55" fill="#555"/><text x="786.9" y="400.8" font-size="4.8" textLength="3.4" lengthAdjust="spacingAndGlyphs" style="font-family:'Liberation Sans', sans-serif;fill:#111;stroke:#111;stroke-width:0.22" >18</text><circle cx="777.9" cy="438.2" r="6.3" fill="#c2c2c2" stroke="#8f8f8f" stroke-width="1.6"/><circle cx="777.9" cy="438.2" r="4.9" fill="#c6c6c6" stroke="#d6d6d6" stroke-width="0.8"/><path d="M776.1,436L778.4,438.5M778.4,438.5L777.1,440.8M778.4,438.5L780.3,437.2" stroke="#ececec" stroke-width="1" stroke-linecap="round"/><circle cx="779.7" cy="435.6" r="0.55" fill="#555"/><circle cx="780.1" cy="440" r="0.55" fill="#555"/><circle cx="775.6" cy="438.8" r="0.55" fill="#555"/><text x="786.9" y="439.9" font-size="4.8" textLength="3.4" lengthAdjust="spacingAndGlyphs" style="font-family:'Liberation Sans', sans-serif;fill:#111;stroke:#111;stroke-width:0.22" >19</text><circle cx="777.9" cy="477.5" r="6.3" fill="#c2c2c2" stroke="#8f8f8f" stroke-width="1.6"/><circle cx="777.9" cy="477.5" r="4.9" fill="#c6c6c6" stroke="#d6d6d6" stroke-width="0.8"/><path d="M776.1,475.3L778.4,477.8M778.4,477.8L777.1,480.1M778.4,477.8L780.3,476.5" stroke="#ececec" stroke-width="1" stroke-linecap="round"/><circle cx="779.7" cy="474.9" r="0.55" fill="#555"/><circle cx="780.1" cy="479.3" r="0.55" fill="#555"/><circle cx="775.6" cy="478.1" r="0.55" fill="#555"/><text x="786.9" y="479.2" font-size="4.8" textLength="3.4" lengthAdjust="spacingAndGlyphs" style="font-family:'Liberation Sans', sans-serif;fill:#111;stroke:#111;stroke-width:0.22" >20</text><circle cx="813.4" cy="332.5" r="2.3" fill="none" stroke="#666" stroke-width="0.55"/><text x="806.2" y="334.2" font-size="4.8" textLength="3.4" lengthAdjust="spacingAndGlyphs" style="font-family:'Liberation Sans', sans-serif;fill:#111;stroke:#111;stroke-width:0.22" >21</text><circle cx="813.4" cy="337.8" r="2.3" fill="none" stroke="#666" stroke-width="0.55"/><text x="806.2" y="339.5" font-size="4.8" textLength="3.4" lengthAdjust="spacingAndGlyphs" style="font-family:'Liberation Sans', sans-serif;fill:#111;stroke:#111;stroke-width:0.22" >22</text><circle cx="813.4" cy="343.1" r="2.3" fill="none" stroke="#666" stroke-width="0.55"/><text x="806.2" y="344.8" font-size="4.8" textLength="3.4" lengthAdjust="spacingAndGlyphs" style="font-family:'Liberation Sans', sans-serif;fill:#111;stroke:#111;stroke-width:0.22" >23</text><circle cx="813.4" cy="348.4" r="2.3" fill="none" stroke="#666" stroke-width="0.55"/><text x="806.2" y="350.1" font-size="4.8" textLength="3.4" lengthAdjust="spacingAndGlyphs" style="font-family:'Liberation Sans', sans-serif;fill:#111;stroke:#111;stroke-width:0.22" >24</text><circle cx="816.2" cy="359.9" r="6.3" fill="#c2c2c2" stroke="#8f8f8f" stroke-width="1.6"/><circle cx="816.2" cy="359.9" r="4.9" fill="#c6c6c6" stroke="#d6d6d6" stroke-width="0.8"/><path d="M814.4,357.7L816.7,360.2M816.7,360.2L815.4,362.5M816.7,360.2L818.6,358.9" stroke="#ececec" stroke-width="1" stroke-linecap="round"/><circle cx="818" cy="357.3" r="0.55" fill="#555"/><circle cx="818.4" cy="361.7" r="0.55" fill="#555"/><circle cx="813.9" cy="360.5" r="0.55" fill="#555"/><text x="825.2" y="361.6" font-size="4.8" textLength="3.4" lengthAdjust="spacingAndGlyphs" style="font-family:'Liberation Sans', sans-serif;fill:#111;stroke:#111;stroke-width:0.22" >21</text><circle cx="816.2" cy="399.1" r="6.3" fill="#c2c2c2" stroke="#8f8f8f" stroke-width="1.6"/><circle cx="816.2" cy="399.1" r="4.9" fill="#c6c6c6" stroke="#d6d6d6" stroke-width="0.8"/><path d="M814.4,396.9L816.7,399.4M816.7,399.4L815.4,401.7M816.7,399.4L818.6,398.1" stroke="#ececec" stroke-width="1" stroke-linecap="round"/><circle cx="818" cy="396.5" r="0.55" fill="#555"/><circle cx="818.4" cy="400.9" r="0.55" fill="#555"/><circle cx="813.9" cy="399.7" r="0.55" fill="#555"/><text x="825.2" y="400.8" font-size="4.8" textLength="3.4" lengthAdjust="spacingAndGlyphs" style="font-family:'Liberation Sans', sans-serif;fill:#111;stroke:#111;stroke-width:0.22" >22</text><circle cx="816.2" cy="438.2" r="6.3" fill="#c2c2c2" stroke="#8f8f8f" stroke-width="1.6"/><circle cx="816.2" cy="438.2" r="4.9" fill="#c6c6c6" stroke="#d6d6d6" stroke-width="0.8"/><path d="M814.4,436L816.7,438.5M816.7,438.5L815.4,440.8M816.7,438.5L818.6,437.2" stroke="#ececec" stroke-width="1" stroke-linecap="round"/><circle cx="818" cy="435.6" r="0.55" fill="#555"/><circle cx="818.4" cy="440" r="0.55" fill="#555"/><circle cx="813.9" cy="438.8" r="0.55" fill="#555"/><text x="825.2" y="439.9" font-size="4.8" textLength="3.4" lengthAdjust="spacingAndGlyphs" style="font-family:'Liberation Sans', sans-serif;fill:#111;stroke:#111;stroke-width:0.22" >23</text><circle cx="816.2" cy="477.5" r="6.3" fill="#c2c2c2" stroke="#8f8f8f" stroke-width="1.6"/><circle cx="816.2" cy="477.5" r="4.9" fill="#c6c6c6" stroke="#d6d6d6" stroke-width="0.8"/><path d="M814.4,475.3L816.7,477.8M816.7,477.8L815.4,480.1M816.7,477.8L818.6,476.5" stroke="#ececec" stroke-width="1" stroke-linecap="round"/><circle cx="818" cy="474.9" r="0.55" fill="#555"/><circle cx="818.4" cy="479.3" r="0.55" fill="#555"/><circle cx="813.9" cy="478.1" r="0.55" fill="#555"/><text x="825.2" y="479.2" font-size="4.8" textLength="3.4" lengthAdjust="spacingAndGlyphs" style="font-family:'Liberation Sans', sans-serif;fill:#111;stroke:#111;stroke-width:0.22" >24</text><circle cx="851.7" cy="332.5" r="2.3" fill="none" stroke="#666" stroke-width="0.55"/><text x="844.5" y="334.2" font-size="4.8" textLength="3.4" lengthAdjust="spacingAndGlyphs" style="font-family:'Liberation Sans', sans-serif;fill:#111;stroke:#111;stroke-width:0.22" >25</text><circle cx="851.7" cy="337.8" r="2.3" fill="none" stroke="#666" stroke-width="0.55"/><text x="844.5" y="339.5" font-size="4.8" textLength="3.4" lengthAdjust="spacingAndGlyphs" style="font-family:'Liberation Sans', sans-serif;fill:#111;stroke:#111;stroke-width:0.22" >26</text><circle cx="851.7" cy="343.1" r="2.3" fill="none" stroke="#666" stroke-width="0.55"/><text x="844.5" y="344.8" font-size="4.8" textLength="3.4" lengthAdjust="spacingAndGlyphs" style="font-family:'Liberation Sans', sans-serif;fill:#111;stroke:#111;stroke-width:0.22" >27</text><circle cx="851.7" cy="348.4" r="2.3" fill="none" stroke="#666" stroke-width="0.55"/><text x="844.5" y="350.1" font-size="4.8" textLength="3.4" lengthAdjust="spacingAndGlyphs" style="font-family:'Liberation Sans', sans-serif;fill:#111;stroke:#111;stroke-width:0.22" >28</text><circle cx="854.5" cy="359.9" r="6.3" fill="#c2c2c2" stroke="#8f8f8f" stroke-width="1.6"/><circle cx="854.5" cy="359.9" r="4.9" fill="#c6c6c6" stroke="#d6d6d6" stroke-width="0.8"/><path d="M852.7,357.7L855,360.2M855,360.2L853.7,362.5M855,360.2L856.9,358.9" stroke="#ececec" stroke-width="1" stroke-linecap="round"/><circle cx="856.3" cy="357.3" r="0.55" fill="#555"/><circle cx="856.7" cy="361.7" r="0.55" fill="#555"/><circle cx="852.2" cy="360.5" r="0.55" fill="#555"/><text x="863.5" y="361.6" font-size="4.8" textLength="3.4" lengthAdjust="spacingAndGlyphs" style="font-family:'Liberation Sans', sans-serif;fill:#111;stroke:#111;stroke-width:0.22" >25</text><circle cx="854.5" cy="399.1" r="6.3" fill="#c2c2c2" stroke="#8f8f8f" stroke-width="1.6"/><circle cx="854.5" cy="399.1" r="4.9" fill="#c6c6c6" stroke="#d6d6d6" stroke-width="0.8"/><path d="M852.7,396.9L855,399.4M855,399.4L853.7,401.7M855,399.4L856.9,398.1" stroke="#ececec" stroke-width="1" stroke-linecap="round"/><circle cx="856.3" cy="396.5" r="0.55" fill="#555"/><circle cx="856.7" cy="400.9" r="0.55" fill="#555"/><circle cx="852.2" cy="399.7" r="0.55" fill="#555"/><text x="863.5" y="400.8" font-size="4.8" textLength="3.4" lengthAdjust="spacingAndGlyphs" style="font-family:'Liberation Sans', sans-serif;fill:#111;stroke:#111;stroke-width:0.22" >26</text><circle cx="854.5" cy="438.2" r="6.3" fill="#c2c2c2" stroke="#8f8f8f" stroke-width="1.6"/><circle cx="854.5" cy="438.2" r="4.9" fill="#c6c6c6" stroke="#d6d6d6" stroke-width="0.8"/><path d="M852.7,436L855,438.5M855,438.5L853.7,440.8M855,438.5L856.9,437.2" stroke="#ececec" stroke-width="1" stroke-linecap="round"/><circle cx="856.3" cy="435.6" r="0.55" fill="#555"/><circle cx="856.7" cy="440" r="0.55" fill="#555"/><circle cx="852.2" cy="438.8" r="0.55" fill="#555"/><text x="863.5" y="439.9" font-size="4.8" textLength="3.4" lengthAdjust="spacingAndGlyphs" style="font-family:'Liberation Sans', sans-serif;fill:#111;stroke:#111;stroke-width:0.22" >27</text><circle cx="854.5" cy="477.5" r="6.3" fill="#c2c2c2" stroke="#8f8f8f" stroke-width="1.6"/><circle cx="854.5" cy="477.5" r="4.9" fill="#c6c6c6" stroke="#d6d6d6" stroke-width="0.8"/><path d="M852.7,475.3L855,477.8M855,477.8L853.7,480.1M855,477.8L856.9,476.5" stroke="#ececec" stroke-width="1" stroke-linecap="round"/><circle cx="856.3" cy="474.9" r="0.55" fill="#555"/><circle cx="856.7" cy="479.3" r="0.55" fill="#555"/><circle cx="852.2" cy="478.1" r="0.55" fill="#555"/><text x="863.5" y="479.2" font-size="4.8" textLength="3.4" lengthAdjust="spacingAndGlyphs" style="font-family:'Liberation Sans', sans-serif;fill:#111;stroke:#111;stroke-width:0.22" >28</text>
</g>
<text x="15.5" y="70.3" font-size="10.1" textLength="56" lengthAdjust="spacingAndGlyphs" text-rendering="geometricPrecision" style="font-family:'Liberation Sans', sans-serif;fill:#333">UL15_7_VFD1</text>
<text x="15.5" y="82.9" font-size="10.1" textLength="48" lengthAdjust="spacingAndGlyphs" text-rendering="geometricPrecision" style="font-family:'Liberation Sans', sans-serif;fill:#333">11.200.1.59</text>
<text x="15.5" y="205.3" font-size="10.1" textLength="56" lengthAdjust="spacingAndGlyphs" text-rendering="geometricPrecision" style="font-family:'Liberation Sans', sans-serif;fill:#333">UL15_6_VFD1</text>
<text x="15.5" y="217.9" font-size="10.1" textLength="48" lengthAdjust="spacingAndGlyphs" text-rendering="geometricPrecision" style="font-family:'Liberation Sans', sans-serif;fill:#333">11.200.1.58</text>
<text x="15.5" y="340.1" font-size="10.1" textLength="56" lengthAdjust="spacingAndGlyphs" text-rendering="geometricPrecision" style="font-family:'Liberation Sans', sans-serif;fill:#333">UL15_5_VFD1</text>
<text x="15.5" y="352.8" font-size="10.1" textLength="48" lengthAdjust="spacingAndGlyphs" text-rendering="geometricPrecision" style="font-family:'Liberation Sans', sans-serif;fill:#333">11.200.1.57</text>
<text x="19.2" y="454" font-size="10.1" textLength="49.3" lengthAdjust="spacingAndGlyphs" text-rendering="geometricPrecision" style="font-family:'Liberation Sans', sans-serif;fill:#333">UL15_1_EX1</text>
<text x="19.2" y="466.6" font-size="10.1" textLength="48.3" lengthAdjust="spacingAndGlyphs" text-rendering="geometricPrecision" style="font-family:'Liberation Sans', sans-serif;fill:#333">11.200.1.54</text>
<text x="462.8" y="152.1" font-size="10.1" textLength="54.2" lengthAdjust="spacingAndGlyphs" text-rendering="geometricPrecision" style="font-family:'Liberation Sans', sans-serif;fill:#333">UL15_3_FIO1</text>
<text x="462.8" y="164.7" font-size="10.1" textLength="48.2" lengthAdjust="spacingAndGlyphs" text-rendering="geometricPrecision" style="font-family:'Liberation Sans', sans-serif;fill:#333">11.200.1.64</text>
<text x="637.2" y="152" font-size="10.1" textLength="61.2" lengthAdjust="spacingAndGlyphs" text-rendering="geometricPrecision" style="font-family:'Liberation Sans', sans-serif;fill:#333">UL15_11_VFD1</text>
<text x="637.2" y="164.6" font-size="10.1" textLength="48.2" lengthAdjust="spacingAndGlyphs" text-rendering="geometricPrecision" style="font-family:'Liberation Sans', sans-serif;fill:#333">11.200.1.63</text>
<text x="752.7" y="152" font-size="10.1" textLength="55.8" lengthAdjust="spacingAndGlyphs" text-rendering="geometricPrecision" style="font-family:'Liberation Sans', sans-serif;fill:#333">UL15_8_VFD1</text>
<text x="752.7" y="164.6" font-size="10.1" textLength="48.1" lengthAdjust="spacingAndGlyphs" text-rendering="geometricPrecision" style="font-family:'Liberation Sans', sans-serif;fill:#333">11.200.1.60</text>
<text x="931.9" y="152.3" font-size="10.1" textLength="62" lengthAdjust="spacingAndGlyphs" text-rendering="geometricPrecision" style="font-family:'Liberation Sans', sans-serif;fill:#333">UL15_12_VFD1</text>
<text x="931.9" y="164.9" font-size="10.1" textLength="48.2" lengthAdjust="spacingAndGlyphs" text-rendering="geometricPrecision" style="font-family:'Liberation Sans', sans-serif;fill:#333">11.200.1.65</text>
<text x="664.6" y="538.6" font-size="18" textLength="120" lengthAdjust="spacingAndGlyphs" style="font-family:'Liberation Sans', sans-serif;fill:#333">UL15_4_DPM1</text>
</svg>
</body></html>
